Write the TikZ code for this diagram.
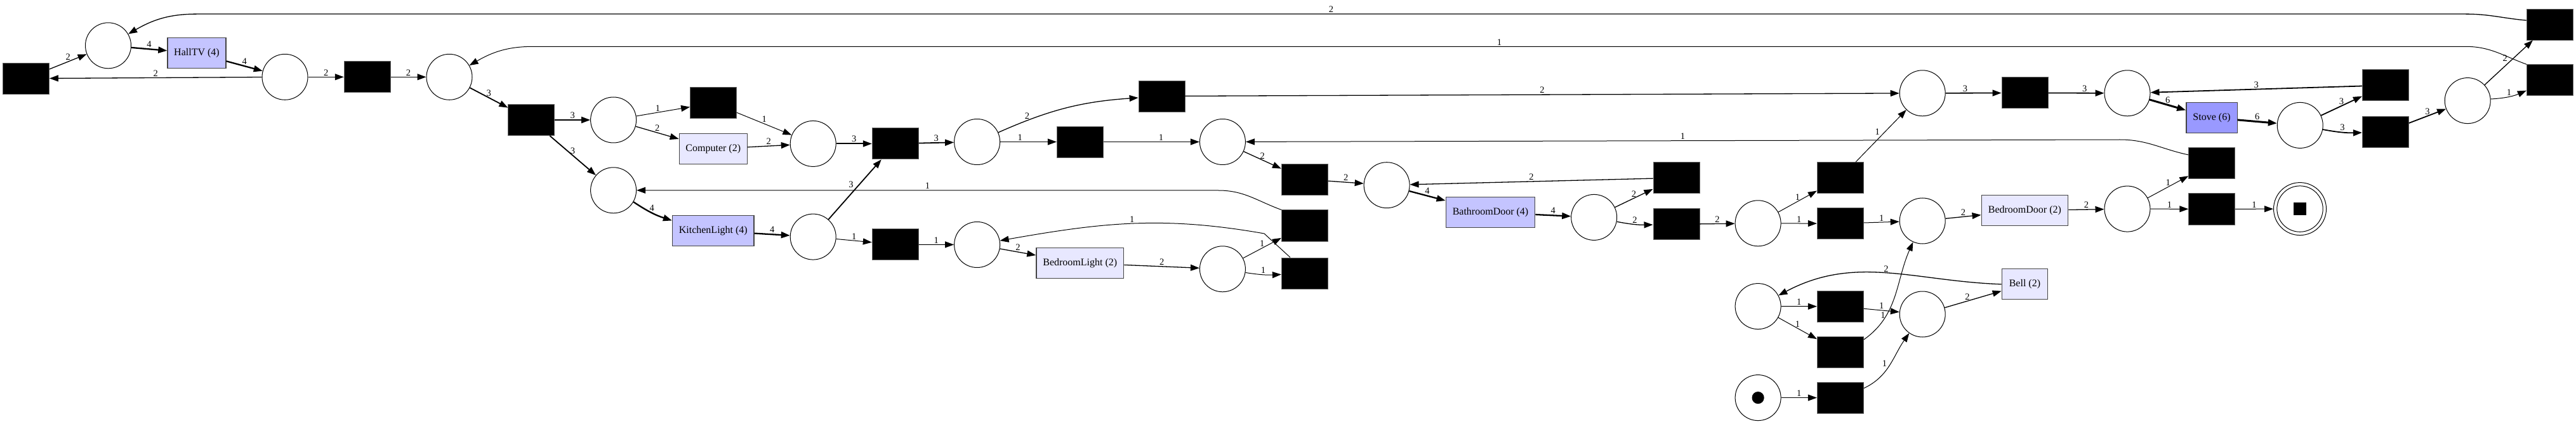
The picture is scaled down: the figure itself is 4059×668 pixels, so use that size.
\documentclass[tikz,border=0pt]{standalone}
\usepackage{fontspec}
\setmainfont{Liberation Serif}
\usetikzlibrary{shapes.geometric,arrows.meta}
\definecolor{actmid}{RGB}{196,196,255}
\definecolor{actlight}{RGB}{232,232,255}
\definecolor{actdark}{RGB}{153,153,255}
\definecolor{bord}{RGB}{68,68,68}
\begin{document}
\begin{tikzpicture}[x=1pt,y=1pt,
  place/.style={circle,draw,line width=1pt,minimum size=72pt,inner sep=0pt},
  trans/.style={rectangle,fill=black,draw=black!60,line width=0.8pt,minimum width=73pt,minimum height=49pt,inner sep=0pt},
  act/.style={rectangle,draw=bord,line width=1.3pt,minimum height=48pt,inner sep=0pt,font=\fontsize{16}{18}\selectfont},
  lbl/.style={font=\fontsize{14.5}{16}\selectfont,inner sep=1.5pt,above},
  edg/.style={-{Triangle[length=14pt,width=10pt]}},
  w1/.style={edg,line width=1pt},
  w2/.style={edg,line width=1.3pt},
  w3/.style={edg,line width=1.8pt},
  w4/.style={edg,line width=2.3pt},
  w6/.style={edg,line width=3pt}]
\useasboundingbox (0,0) rectangle (4059,-668);
% places
\node[place] (p1) at (170.5,-71.8) {};
\node[place] (p2) at (449,-121.3) {};
\node[place] (p3) at (708,-121.3) {};
\node[place] (p4) at (966.6,-189) {};
\node[place] (p5) at (966.6,-299.8) {};
\node[place] (p6) at (1281.2,-226.4) {};
\node[place] (p7) at (1539.6,-223.5) {};
\node[place] (p8) at (1281.2,-373.1) {};
\node[place] (p9) at (1539.6,-385.5) {};
\node[place] (p10) at (1926.4,-223.5) {};
\node[place] (p11) at (1926.4,-423.8) {};
\node[place] (p12) at (3029.2,-146.8) {};
\node[place] (p13) at (2185.1,-291.7) {};
\node[place] (p14) at (2511.7,-342.4) {};
\node[place] (p15) at (2770.1,-351.8) {};
\node[place] (p16) at (3029.2,-348) {};
\node[place] (p17) at (2770.1,-482.6) {};
\node[place] (p18) at (3029.2,-495) {};
\node[place] (p19) at (2770.1,-626.6) {};
\fill (p19.center) circle [radius=9.6];
\node[place] (p20) at (3352,-146.8) {};
\node[place] (p21) at (3352,-329.1) {};
\node[place] (p22) at (3624.2,-197.4) {};
\node[place] (p23) at (3888.2,-158.6) {};
\node[place,minimum size=83pt] (p24) at (3624,-329.1) {};
\draw[line width=1pt] (p24.center) circle [radius=36.2];
\fill ([shift={(-10,-9.6)}]p24.center) rectangle ([shift={(10,9.6)}]p24.center);
% transitions
\node[trans] (t0) at (41,-123.7) {};
\node[trans] (t1) at (578.7,-121.3) {};
\node[trans] (t2) at (837.3,-189) {};
\node[trans] (t3) at (1124,-162.3) {};
\node[trans] (t4) at (1410.7,-226.4) {};
\node[trans] (t5) at (1410.7,-385.2) {};
\node[trans] (t6) at (1830.5,-151.5) {};
\node[trans] (t7) at (1701.8,-223.5) {};
\node[trans] (t8) at (2055.8,-282.5) {};
\node[trans] (t9) at (2055.8,-355.4) {};
\node[trans] (t10) at (2055.8,-430.4) {};
\node[trans] (t11) at (2641.4,-280.2) {};
\node[trans] (t12) at (2641.4,-353.3) {};
\node[trans] (t13) at (2899.8,-280.2) {};
\node[trans] (t14) at (2899.8,-352.2) {};
\node[trans] (t15) at (2899.8,-482.8) {};
\node[trans] (t16) at (2899.8,-554.7) {};
\node[trans] (t17) at (2899.8,-626.6) {};
\node[trans] (t18) at (3190.4,-146.4) {};
\node[trans] (t19) at (3758.8,-134.4) {};
\node[trans] (t20) at (3485.2,-257.4) {};
\node[trans] (t21) at (3485.2,-329.4) {};
\node[trans] (t22) at (4017.8,-38.6) {};
\node[trans] (t23) at (4017.8,-126.2) {};
\node[trans] (t24) at (3758.8,-208) {};
% activities
\node[act,fill=actmid,minimum width=92pt] (hall) at (310,-83.8) {HallTV (4)};
\node[act,fill=actlight,minimum width=107pt] (comp) at (1123.8,-234.6) {Computer (2)};
\node[act,fill=actmid,minimum width=128.4pt] (kitch) at (1123.8,-363.8) {KitchenLight (4)};
\node[act,fill=actlight,minimum width=137.8pt] (bedl) at (1701.8,-414.5) {BedroomLight (2)};
\node[act,fill=actmid,minimum width=140.5pt] (bath) at (2348.5,-334.7) {BathroomDoor (4)};
\node[act,fill=actlight,minimum width=136.4pt] (bedd) at (3190.4,-331.7) {BedroomDoor (2)};
\node[act,fill=actlight,minimum width=72.3pt] (bell) at (3190.4,-447.8) {Bell (2)};
\node[act,fill=actdark,minimum width=80.3pt] (stove) at (3485,-185.4) {Stove (6)};
% arcs
\draw[w2] (t0) -- node[lbl]{2} (p1);
\draw[w4] (p1) -- node[lbl]{4} (hall);
\draw[w4] (hall) -- node[lbl]{4} (p2);
\draw[w2] (p2) -- node[lbl]{2} (t0);
\draw[w2] (p2) -- node[lbl]{2} (t1);
\draw[w2] (t1) -- node[lbl]{2} (p3);
\draw[w3] (p3) -- node[lbl]{3} (t2);
\draw[w3] (t2) -- node[lbl]{3} (p4);
\draw[w3] (t2) -- node[lbl]{3} (p5);
\draw[w1] (p4) -- node[lbl,pos=0.4]{1} (t3);
\draw[w2] (p4) -- node[lbl]{2} (comp);
\draw[w1] (t3) -- node[lbl]{1} (p6);
\draw[w2] (comp) -- node[lbl]{2} (p6);
\draw[w3] (p6) -- node[lbl]{3} (t4);
\draw[w3] (t4) -- node[lbl]{3} (p7);
\draw[w4] (p5) to[bend right=8] node[lbl]{4} (kitch);
\draw[w4] (kitch) -- node[lbl]{4} (p8);
\draw[w3] (p8) -- node[lbl,above left]{3} (t4);
\draw[w1] (p8) -- node[lbl]{1} (t5);
\draw[w1] (t5) -- node[lbl]{1} (p9);
\draw[w2] (p7) to[bend left=10] node[lbl,pos=0.2]{2} (t6);
\draw[w1] (p7) -- node[lbl,pos=0.35]{1} (t7);
\draw[w1] (t7) -- node[lbl,pos=0.6]{1} (p10);
\draw[w2] (p10) -- node[lbl]{2} (t8);
\draw[w2] (t8) -- node[lbl]{2} (p13);
\draw[w4] (p13) -- node[lbl]{4} (bath);
\draw[w4] (bath) -- node[lbl]{4} (p14);
\draw[w2] (p14) -- node[lbl]{2} (t11);
\draw[w2] (p14) to[bend right=6] node[lbl]{2} (t12);
\draw[w2] (t12) -- node[lbl]{2} (p15);
\draw[w1] (p15) -- node[lbl]{1} (t13);
\draw[w1] (p15) -- node[lbl]{1} (t14);
\draw[w1] (t13) -- node[lbl,above left]{1} (p12);
\draw[w1] (t14) -- node[lbl]{1} (p16);
\draw[w2] (p9) -- node[lbl]{2} (bedl);
\draw[w2] (bedl) -- node[lbl]{2} (p11);
\draw[w1] (p11) -- node[lbl]{1} (t9);
\draw[w1] (p11) to[bend right=6] node[lbl]{1} (t10);
\draw[w1] (t9.north west) to[out=160,in=0] (1920,-300) -- node[lbl]{1} (p5);
\draw[w1] ([xshift=14pt]t10.north west) -- (1992,-368) to[out=170,in=10] node[lbl]{1} (p9);
\draw[w2] (t11) -- node[lbl]{2} (p13);
\draw[w2] (t6) -- node[lbl]{2} (p12);
\draw[w1] (t20.160) to[out=168,in=0] (3340,-220) -- node[lbl]{1} (p10);
\draw[w2] (t22.170) to[out=175,in=0] (3885,-22.1) -- node[lbl]{2} (310,-22.1) to[out=180,in=30] (p1);
\draw[w1] (t23.north west) to[out=160,in=0] (3885,-73.3) -- node[lbl]{1} (840,-73.3) to[out=180,in=30] (p3);
\draw[w3] (p12) -- node[lbl,pos=0.35]{3} (t18);
\draw[w3] (t18) -- node[lbl,pos=0.65]{3} (p20);
\draw[w6] (p20) -- node[lbl]{6} (stove);
\draw[w6] (stove) -- node[lbl]{6} (p22);
\draw[w3] (p22) -- node[lbl]{3} (t19);
\draw[w3] (p22) to[bend right=6] node[lbl]{3} (t24);
\draw[w3] (t19) -- node[lbl]{3} (p20);
\draw[w3] (t24) -- node[lbl]{3} (p23);
\draw[w2] (p23) -- node[lbl,above left]{2} (t22);
\draw[w1] (p23) to[bend right=10] node[lbl]{1} (t23);
\draw[w2] (p16) -- node[lbl]{2} (bedd);
\draw[w2] (bedd) -- node[lbl]{2} (p21);
\draw[w1] (p21) -- node[lbl]{1} (t20);
\draw[w1] (p21) -- node[lbl]{1} (t21);
\draw[w1] (t21) -- node[lbl]{1} (p24);
\draw[w1] (p17) -- node[lbl]{1} (t15);
\draw[w1] (p17) -- node[lbl]{1} (t16);
\draw[w1] (t15) -- node[lbl]{1} (p18);
\draw[w1] (t16.28) to[out=35,in=-114] node[lbl,left,pos=0.3]{1} (p16);
\draw[w1] (p19) -- node[lbl]{1} (t17);
\draw[w1] (t17.22) to[out=25,in=-125] node[lbl,above left,pos=0.45]{1} (p18);
\draw[w2] (p18) -- node[lbl,pos=0.4]{2} (bell);
\draw[w2] (bell.west) to[out=178,in=28] node[lbl,pos=0.5]{2} (p17);
\end{tikzpicture}
\end{document}
